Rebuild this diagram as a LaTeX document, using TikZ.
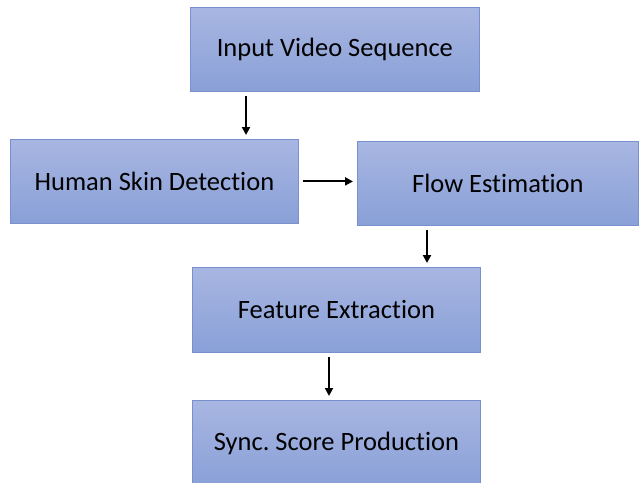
\documentclass[tikz,border=0pt]{standalone}
\usepackage{fontspec}
\setmainfont[Ligatures=NoCommon]{Carlito}
\usetikzlibrary{arrows.meta}

\definecolor{boxtop}{RGB}{168,182,226}
\definecolor{boxbot}{RGB}{137,160,215}
\definecolor{boxline}{RGB}{120,144,206}

\begin{document}
\begin{tikzpicture}[x=1pt, y=1pt, >={Triangle[length=8pt, width=8pt]},
	stage/.style={draw=boxline, line width=0.8pt, top color=boxtop, bottom color=boxbot,
		anchor=north west, inner sep=0pt, font=\fontsize{26.5}{30}\selectfont},
	arr/.style={->, line width=2pt, shorten <=4pt, shorten >=4pt}]
	\useasboundingbox (0,0) rectangle (639,-482);
	\clip (0,0) rectangle (639,-482);
	% processing stages
	\node[stage, minimum width=289pt, minimum height=84pt] (input) at (190,-7) {Input Video Sequence};
	\node[stage, minimum width=288pt, minimum height=84pt] (skin) at (10,-139) {Human Skin Detection};
	\node[stage, minimum width=281pt, minimum height=84pt] (flow) at (357,-141) {Flow Estimation};
	\node[stage, minimum width=288pt, minimum height=85pt] (feat) at (192,-267) {Feature Extraction};
	\node[stage, minimum width=288pt, minimum height=86pt] (sync) at (192,-400) {Sync.\ Score Production};
	% connections
	\draw[arr] ([xshift=56pt]input.south west) -- ([xshift=236pt]skin.north west);
	\draw[arr] (skin.east) -- (skin.east -| flow.west);
	\draw[arr] ([xshift=70pt]flow.south west) -- ([xshift=235pt]feat.north west);
	\draw[arr] ([xshift=137pt]feat.south west) -- ([xshift=137pt]sync.north west);
\end{tikzpicture}
\end{document}
